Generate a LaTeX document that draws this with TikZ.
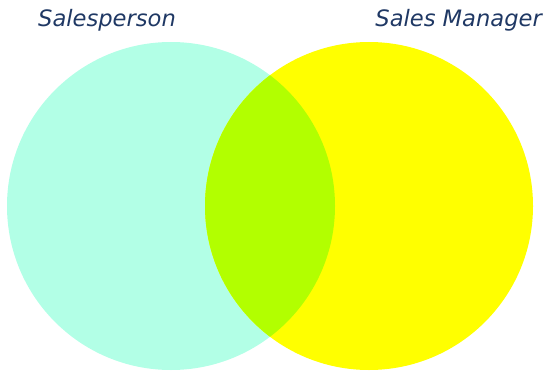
\documentclass[tikz,border=0pt]{standalone}
\usepackage{fontspec}
\setmainfont{DejaVu Sans}
\usetikzlibrary{positioning}
\definecolor{SetAqua}{RGB}{178,255,230}
\definecolor{SetYellow}{RGB}{255,255,0}
\definecolor{SetBoth}{RGB}{178,255,0}
\definecolor{LabelBlue}{RGB}{31,56,100}

\begin{document}
\begin{tikzpicture}[x=1pt, y=1pt,
    set/.style={circle, minimum size=328pt, inner sep=0pt},
    lbl/.style={font=\itshape\fontsize{22.6}{22.6}\selectfont, text=LabelBlue, inner sep=0pt}
]
    \useasboundingbox (0,0) rectangle (548,370);
    \node[set, fill=SetAqua] (sp) at (171,164) {};
    \node[set, fill=SetYellow] (mgr) at (369,164) {};
    \begin{scope}
        \clip (sp.center) circle[radius=164pt];
        \fill[SetBoth] (mgr.center) circle[radius=164pt];
    \end{scope}
    \node[lbl, anchor=base west] (splbl) at (38,343) {Salesperson};
    \node[lbl, anchor=base east] (mgrlbl) at (542,343) {Sales Manager};
\end{tikzpicture}
\end{document}
